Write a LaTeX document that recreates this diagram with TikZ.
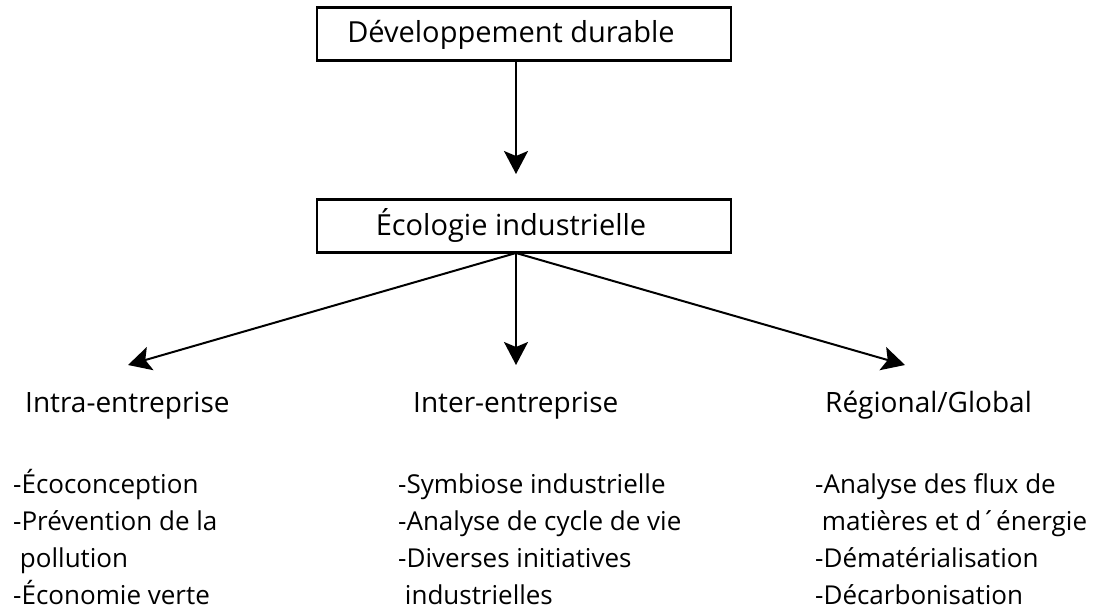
\documentclass[tikz,border=0pt]{standalone}
\usepackage{fontspec}
\setmainfont{Open Sans}
\usetikzlibrary{arrows.meta}
\tikzset{
  boxstyle/.style={draw=black, line width=2.2pt, minimum width=414pt, minimum height=53pt, inner sep=0pt},
  headtext/.style={font=\fontsize{29}{33}\selectfont, inner sep=0pt},
  cattext/.style={font=\fontsize{28}{33}\selectfont, inner sep=0pt, anchor=base west},
  listtext/.style={font=\fontsize{26}{37}\selectfont, align=left, inner sep=0pt, anchor=base west},
  conn/.style={line width=2pt, -{Stealth[length=23pt, width=24pt, inset=5pt]}}
}
\begin{document}
\begin{tikzpicture}[x=1pt, y=-1pt]
\useasboundingbox[fill=white] (0,0) rectangle (1108,614);
% boxes
\node[boxstyle] (dd) at (524,34) {};
\node[headtext, anchor=base] (ddt) at (511,42) {Développement durable};
\node[boxstyle] (ei) at (524,226) {};
\node[headtext, anchor=base] (eit) at (511,235) {Écologie industrielle};
% connection points
\coordinate (ddb) at (516,61);
\coordinate (eitop) at (516,174);
\coordinate (eib) at (516,253);
\coordinate (tipL) at (128,365);
\coordinate (tipM) at (516,365);
\coordinate (tipR) at (905,365);
\draw[conn] (ddb) -- (eitop);
\draw[conn] (eib) -- (tipL);
\draw[conn] (eib) -- (tipM);
\draw[conn] (eib) -- (tipR);
% headings
\node[cattext] (h1) at (25,412) {Intra-entreprise};
\node[cattext] (h2) at (413,412) {Inter-entreprise};
\node[cattext] (h3) at (825,412) {Régional/Global};
% lists (anchored at the baseline of the last line)
\node[listtext] (l1) at (13,604) {-Écoconception\\-Prévention de la\\\ pollution\\-Économie verte};
\node[listtext] (l2) at (398,604) {-Symbiose industrielle\\-Analyse de cycle de vie\\-Diverses initiatives\\\ industrielles};
\node[listtext] (l3) at (815,604) {-Analyse des flux de\\\ matières et d´énergie\\-Dématérialisation\\-Décarbonisation};
\end{tikzpicture}
\end{document}
